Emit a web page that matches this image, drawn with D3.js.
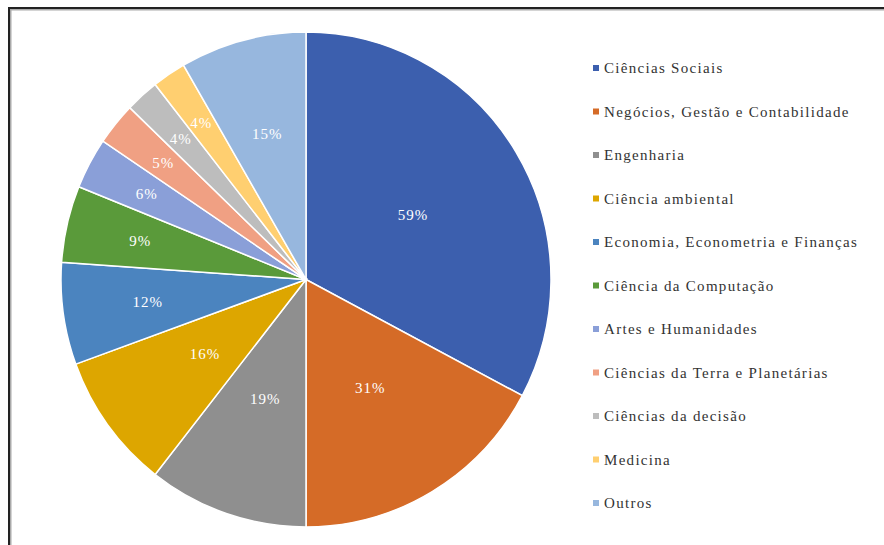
<!DOCTYPE html>
<html><head><meta charset="utf-8">
<script src="https://cdn.jsdelivr.net/npm/d3@7"></script>
<style>body{margin:0;background:#fff;}</style>
</head><body>
<svg id="c" width="884" height="545"></svg>
<script>
const categories = ["Ciências Sociais","Negócios, Gestão e Contabilidade","Engenharia","Ciência ambiental","Economia, Econometria e Finanças","Ciência da Computação","Artes e Humanidades","Ciências da Terra e Planetárias","Ciências da decisão","Medicina","Outros"];
const values = [59,31,19,16,12,9,6,5,4,4,15];
const labels = ["59%","31%","19%","16%","12%","9%","6%","5%","4%","4%","15%"];
const colors = ["#3C5FAE","#D56B27","#8F8F8F","#DDA600","#4B84BF","#5A9A3A","#8A9FD8","#F0A083","#BDBDBD","#FFCF70","#97B7DE"];

const svg = d3.select("#c");
// frame
svg.append("rect").attr("x",10).attr("y",9).attr("width",1000).attr("height",600)
  .attr("fill","none").attr("stroke","#aaa").attr("stroke-width",3);
svg.append("rect").attr("x",9).attr("y",8).attr("width",1000).attr("height",600)
  .attr("fill","none").attr("stroke","#222").attr("stroke-width",2);

const cx = 306, cy = 279.5, r = 245;
const pie = d3.pie().sort(null).value(d=>d)(values);
const arc = d3.arc().innerRadius(0).outerRadius(r);
const g = svg.append("g").attr("transform",`translate(${cx},${cy}) scale(1,1.01)`);
g.selectAll("path").data(pie).join("path")
  .attr("d",arc).attr("fill",(d,i)=>colors[i])
  .attr("stroke","#fff").attr("stroke-width",1.5);

g.selectAll("text").data(pie).join("text")
  .attr("transform",d=>{
    const f = d.value>=16 ? 0.51 : 0.82-0.014*d.value;
    const a = (d.startAngle+d.endAngle)/2;
    return `translate(${Math.sin(a)*r*f},${-Math.cos(a)*r*f})`;
  })
  .attr("text-anchor","middle").attr("dy","0.35em")
  .attr("font-family","Liberation Serif, Times New Roman, serif")
  .attr("font-size",15).attr("letter-spacing",1).attr("fill","#fff")
  .text((d,i)=>labels[i]);

const leg = svg.append("g");
const y0 = 68, dy = 43.5;
categories.forEach((c,i)=>{
  leg.append("rect").attr("x",593).attr("y",y0+i*dy-3).attr("width",6).attr("height",6).attr("fill",colors[i]);
  leg.append("text").attr("x",604).attr("y",y0+i*dy).attr("dy","0.35em")
    .attr("font-family","Liberation Serif, Times New Roman, serif")
    .attr("font-size",15).attr("letter-spacing",1.3).attr("fill","#333").text(c);
});
</script>
</body></html>
